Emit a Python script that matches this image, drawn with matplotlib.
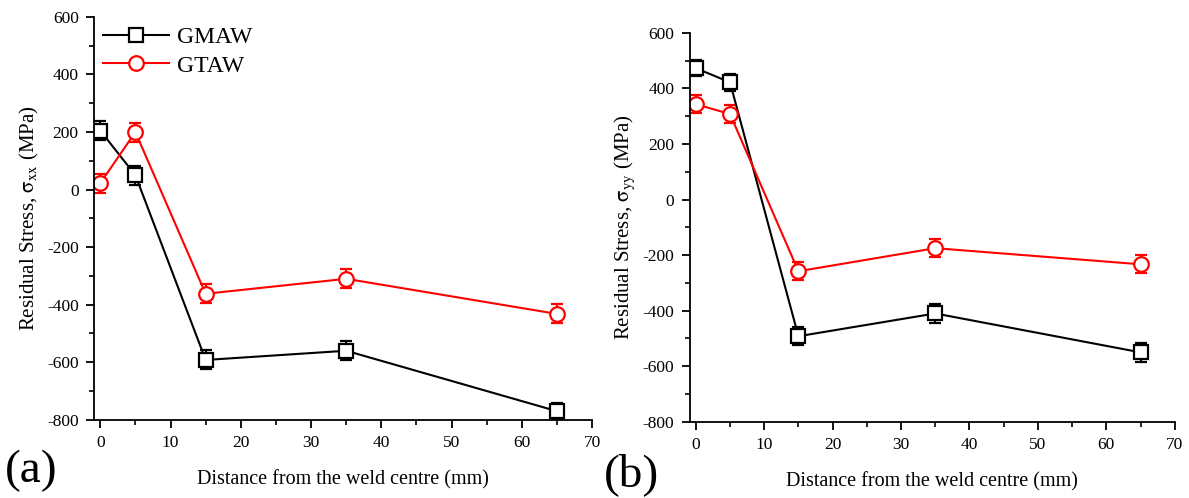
import numpy as np
import matplotlib
matplotlib.use("Agg")
import matplotlib.pyplot as plt
from matplotlib.ticker import MultipleLocator
from matplotlib.lines import Line2D

# Distancia desde el centro de la soldadura (mm)
dist = [0, 5, 15, 35, 65]

# (a) sigma_xx
gmaw_xx = [205, 50, -592, -560, -770]
gtaw_xx = [22, 200, -362, -310, -432]
err_gmaw_xx = [33, 33, 33, 33, 28]
err_gtaw_xx = [33, 33, 33, 33, 33]

# (b) sigma_yy
gmaw_yy = [473, 422, -492, -410, -550]
gtaw_yy = [343, 308, -258, -175, -233]
err_gmaw_yy = [30, 30, 33, 33, 33]
err_gtaw_yy = [33, 33, 33, 33, 33]

plt.rcParams["font.family"] = ["Liberation Serif", "DejaVu Serif"]
plt.rcParams["mathtext.fontset"] = "stix"
plt.rcParams["axes.unicode_minus"] = False

fig = plt.figure(figsize=(11.89, 4.98), dpi=100)
ax_a = fig.add_axes([0.079, 0.157, 0.419, 0.809])
ax_b = fig.add_axes([0.580, 0.153, 0.408, 0.781])


def panel(ax, g, t, eg, et, ylab):
    kw = dict(markersize=10.5, markerfacecolor="white", markeredgewidth=1.6,
              linewidth=1.5, capsize=4, elinewidth=1.5, capthick=1.5)
    ax.errorbar(dist, g, yerr=eg, color="black", marker="s", **kw)
    ax.errorbar(dist, t, yerr=et, color="red", marker="o", **kw)
    ax.set_xlim(-0.9, 70)
    ax.set_ylim(-800, 600)
    ax.xaxis.set_major_locator(MultipleLocator(10))
    ax.xaxis.set_minor_locator(MultipleLocator(5))
    ax.yaxis.set_major_locator(MultipleLocator(200))
    ax.yaxis.set_minor_locator(MultipleLocator(100))
    ax.spines["top"].set_visible(False)
    ax.spines["right"].set_visible(False)
    for s in ("left", "bottom"):
        ax.spines[s].set_linewidth(1.3)
    ax.tick_params(which="major", direction="out", length=6, width=1.3,
                   labelsize=12.5, colors="black", pad=5)
    ax.tick_params(which="minor", direction="out", length=3.5, width=1.2)
    ax.set_xlabel("Distance from the weld centre (mm)", fontsize=14.5, labelpad=14)
    ax.set_ylabel(ylab, fontsize=15, labelpad=4)


panel(ax_a, gmaw_xx, gtaw_xx, err_gmaw_xx, err_gtaw_xx,
      r"Residual Stress, $\mathrm{\sigma_{xx}}$ (MPa)")
panel(ax_b, gmaw_yy, gtaw_yy, err_gmaw_yy, err_gtaw_yy,
      r"Residual Stress, $\mathrm{\sigma_{yy}}$ (MPa)")

handles = [
    Line2D([], [], color="black", marker="s", markersize=10.5, markerfacecolor="white",
           markeredgewidth=1.6, linewidth=1.5),
    Line2D([], [], color="red", marker="o", markersize=10.5, markerfacecolor="white",
           markeredgewidth=1.6, linewidth=1.5),
]
ax_a.legend(handles, ["GMAW", "GTAW"], loc="upper left", frameon=False, fontsize=17,
            handlelength=2.8, handletextpad=0.3, borderaxespad=0.0,
            bbox_to_anchor=(0.0, 1.0), labelspacing=0.3)

fig.text(0.004, 0.032, "(a)", fontsize=34)
fig.text(0.508, 0.024, "(b)", fontsize=34)

fig.savefig("out.png", dpi=100)
